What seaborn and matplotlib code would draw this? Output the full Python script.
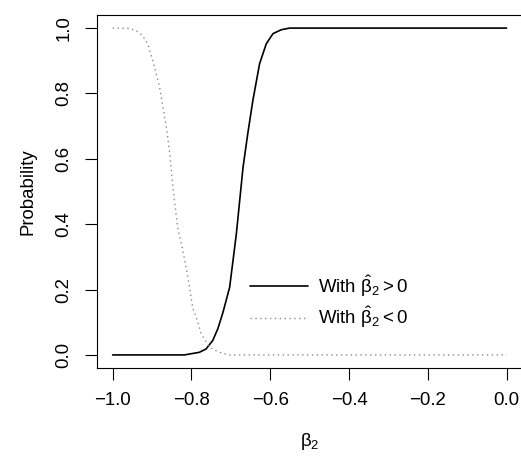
import matplotlib
matplotlib.use("Agg")
import matplotlib.pyplot as plt
import seaborn as sns
import pandas as pd

# Data
beta_pos = [-1.0, -0.9, -0.818, -0.78, -0.763, -0.746, -0.733, -0.72, -0.703, -0.686,
            -0.669, -0.657, -0.644, -0.627, -0.61, -0.593, -0.572, -0.551, -0.5, -0.3, 0.0]
prob_pos = [0.0, 0.0, 0.0, 0.008, 0.018, 0.044, 0.08, 0.13, 0.207, 0.37,
            0.574, 0.677, 0.779, 0.891, 0.952, 0.983, 0.995, 1.0, 1.0, 1.0, 1.0]

beta_neg = [-1.0, -0.96, -0.941, -0.925, -0.911, -0.898, -0.881, -0.864, -0.856, -0.847,
            -0.835, -0.822, -0.809, -0.797, -0.784, -0.775, -0.754, -0.729, -0.703, -0.5, 0.0]
prob_neg = [1.0, 0.999, 0.993, 0.978, 0.952, 0.90, 0.82, 0.70, 0.626, 0.513,
            0.39, 0.32, 0.238, 0.146, 0.10, 0.064, 0.023, 0.008, 0.0, 0.0, 0.0]

label_pos = r"With $\hat{\beta}_2 > 0$"
label_neg = r"With $\hat{\beta}_2 < 0$"

sns.set_style("white")
plt.rcParams["font.family"] = ["Liberation Sans", "DejaVu Sans"]
plt.rcParams["mathtext.fontset"] = "custom"
plt.rcParams["mathtext.rm"] = "Liberation Sans"
plt.rcParams["mathtext.it"] = "Liberation Sans"
plt.rcParams["mathtext.bf"] = "Liberation Sans:bold"
plt.rcParams["text.color"] = "black"
plt.rcParams["axes.labelcolor"] = "black"
plt.rcParams["xtick.color"] = "black"
plt.rcParams["ytick.color"] = "black"

df_pos = pd.DataFrame({"beta": beta_pos, "prob": prob_pos})
df_neg = pd.DataFrame({"beta": beta_neg, "prob": prob_neg})

fig = plt.figure(figsize=(5.21, 4.58), dpi=100)
ax = fig.add_axes([0.186, 0.1965, 0.8165, 0.7707])

sns.lineplot(data=df_pos, x="beta", y="prob", ax=ax, color="black", lw=1.2,
             label=label_pos, estimator=None, sort=False)
sns.lineplot(data=df_neg, x="beta", y="prob", ax=ax, color="#8a8a8a", lw=1.0,
             linestyle=(0, (1, 2.5)), label=label_neg, estimator=None, sort=False)

ax.set_xlim(-1.04, 0.04)
ax.set_ylim(-0.04, 1.04)
ax.set_xticks([-1.0, -0.8, -0.6, -0.4, -0.2, 0.0])
ax.set_xticklabels(["\u22121.0", "\u22120.8", "\u22120.6", "\u22120.4", "\u22120.2", "0.0"])
ax.set_yticks([0.0, 0.2, 0.4, 0.6, 0.8, 1.0])
ax.set_yticklabels(["0.0", "0.2", "0.4", "0.6", "0.8", "1.0"], rotation=90, va="center")

ax.tick_params(axis="both", direction="out", length=8.4, width=0.8, color="black",
               labelcolor="black", labelsize=13.4, pad=9, bottom=True, left=True)
for s in ax.spines.values():
    s.set_color("black")
    s.set_linewidth(0.8)

ax.set_xlabel(r"$\beta_2$", fontsize=13.4, labelpad=16, color="black")
ax.set_ylabel("Probability", fontsize=13.4, labelpad=14, color="black")

leg = ax.legend(loc="upper left", bbox_to_anchor=(0.342, 0.29), frameon=False,
                fontsize=13.4, handlelength=3.1, handletextpad=0.55, labelspacing=0.3,
                borderaxespad=0)
for t in leg.get_texts():
    t.set_color("black")

fig.savefig("out.png", dpi=100)
